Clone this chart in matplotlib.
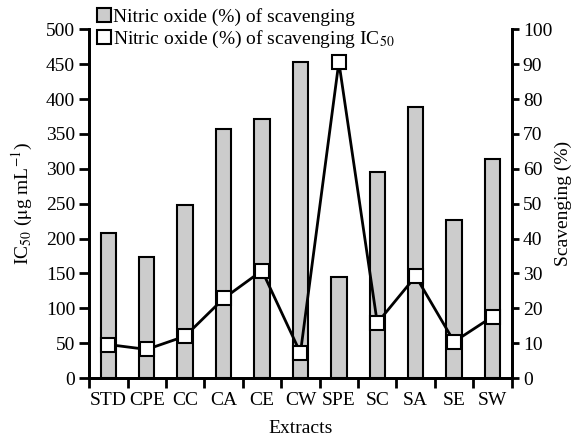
import matplotlib
matplotlib.use("Agg")
import matplotlib.pyplot as plt
from matplotlib.patches import Patch
import numpy as np

categories = ["STD", "CPE", "CC", "CA", "CE", "CW", "SPE", "SC", "SA", "SE", "SW"]
scavenging_pct = [41.6, 34.8, 49.6, 71.4, 74.2, 90.6, 29.1, 59.0, 77.8, 45.4, 62.9]
ic50 = [48, 41, 60, 114, 154, 36, 453, 79, 146, 52, 88]

plt.rcParams['font.family'] = ['Liberation Serif', 'DejaVu Serif']
plt.rcParams['mathtext.fontset'] = 'stix'

FS = 14
fig = plt.figure(figsize=(5.75, 4.37), dpi=100)
ax1 = fig.add_axes([0.155, 0.135, 0.735, 0.798])
ax2 = ax1.twinx()

x = np.arange(len(categories))
ax2.bar(x, scavenging_pct, width=0.4, color='#cccccc', edgecolor='black', linewidth=1.5)
ax1.plot(x, ic50, color='black', linewidth=2, marker='s', markersize=9.5,
         markerfacecolor='white', markeredgecolor='black', markeredgewidth=1.5)

ax1.set_zorder(ax2.get_zorder() + 1)
ax1.patch.set_visible(False)

ax1.set_xlim(-0.5, len(categories) - 0.5)
ax1.set_ylim(0, 500)
ax2.set_ylim(0, 100)
ax1.set_yticks(np.arange(0, 501, 50))
ax2.set_yticks(np.arange(0, 101, 10))

ax1.set_xticks(np.arange(-0.5, len(categories), 1.0))
ax1.set_xticklabels([])
ax1.set_xticks(x, minor=True)
ax1.set_xticklabels(categories, minor=True)
ax1.tick_params(axis='x', which='minor', length=0, labelsize=FS, pad=10)
ax1.tick_params(axis='x', which='major', length=7, width=2, direction='out')
ax1.tick_params(axis='y', length=7, width=2, direction='out', labelsize=FS, pad=3)
ax2.tick_params(axis='y', length=5, width=2, direction='out', labelsize=FS, pad=3)

for ax in (ax1, ax2):
    ax.spines['top'].set_visible(False)
    for s in ('left', 'right', 'bottom'):
        ax.spines[s].set_linewidth(2)

ax1.set_xlabel("Extracts", fontsize=FS, labelpad=8)
ax1.set_ylabel(r"IC$_{50}$ ($\mathrm{\mu}$g mL$^{-1}$)", fontsize=FS, labelpad=8)
ax2.set_ylabel("Scavenging (%)", fontsize=FS, labelpad=2)

handles = [Patch(facecolor='#cccccc', edgecolor='black', linewidth=1.5),
           Patch(facecolor='white', edgecolor='black', linewidth=1.5)]
labels = ["Nitric oxide (%) of scavenging", r"Nitric oxide (%) of scavenging IC$_{50}$"]
fig.legend(handles, labels, loc='upper left', bbox_to_anchor=(0.148, 1.008),
           frameon=False, fontsize=FS, handlelength=0.75, handleheight=0.75,
           handletextpad=0.1, labelspacing=0.15, borderaxespad=0.2)

fig.savefig("out.png", dpi=100)
